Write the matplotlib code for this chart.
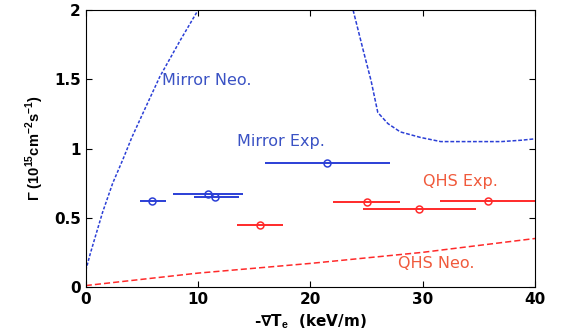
import numpy as np
import matplotlib.pyplot as plt

plt.rcParams['font.family'] = ['Liberation Sans', 'DejaVu Sans']
plt.rcParams['mathtext.fontset'] = 'custom'
plt.rcParams['mathtext.bf'] = 'Liberation Sans:bold'
plt.rcParams['mathtext.rm'] = 'Liberation Sans'

# Mirror neoclassical curve (two branches)
mirror_neo_x1 = [0.0, 0.4, 0.8, 1.5, 2.4, 3.3, 4.1, 5.4, 6.6, 8.4, 10.0]
mirror_neo_y1 = [0.12, 0.24, 0.35, 0.54, 0.75, 0.92, 1.08, 1.31, 1.52, 1.78, 2.00]
mirror_neo_x2 = [23.8, 24.7, 25.4, 26.0, 26.9, 28.0, 29.8, 31.6, 34.6, 37.0, 38.8, 40.0]
mirror_neo_y2 = [2.00, 1.71, 1.49, 1.26, 1.18, 1.12, 1.08, 1.05, 1.05, 1.05, 1.06, 1.07]

# QHS neoclassical curve
qhs_neo_x = [0, 10, 20, 30, 40]
qhs_neo_y = [0.01, 0.10, 0.17, 0.25, 0.35]

# Mirror experiment: x, y, x-range
mirror_exp_x = [5.9, 10.9, 11.5, 21.5]
mirror_exp_y = [0.62, 0.67, 0.65, 0.895]
mirror_exp_lo = [4.8, 7.8, 9.6, 16.0]
mirror_exp_hi = [7.1, 14.0, 13.6, 27.1]

# QHS experiment
qhs_exp_x = [15.5, 25.0, 29.7, 35.8]
qhs_exp_y = [0.448, 0.613, 0.563, 0.62]
qhs_exp_lo = [13.5, 22.0, 24.7, 31.5]
qhs_exp_hi = [17.6, 28.0, 34.7, 40.0]

blue = '#2b3fd6'
red = '#ff2a2a'
blue_txt = '#3a52c4'
red_txt = '#f05a3c'

fig = plt.figure(figsize=(5.68, 3.36), dpi=100)
ax = fig.add_axes([0.151, 0.146, 0.791, 0.824])

ax.plot(mirror_neo_x1, mirror_neo_y1, color=blue, lw=1.1, ls=(0, (2, 1.2)))
ax.plot(mirror_neo_x2, mirror_neo_y2, color=blue, lw=1.1, ls=(0, (2.5, 1.2)))
ax.plot(qhs_neo_x, qhs_neo_y, color=red, lw=1.1, ls=(0, (4, 2)))

mx = np.array(mirror_exp_x)
xerr_m = [mx - np.array(mirror_exp_lo), np.array(mirror_exp_hi) - mx]
ax.errorbar(mirror_exp_x, mirror_exp_y, xerr=xerr_m, fmt='o', color=blue,
            mfc='none', ms=5, mew=1.1, elinewidth=1.4, capsize=0)

qx = np.array(qhs_exp_x)
xerr_q = [qx - np.array(qhs_exp_lo), np.array(qhs_exp_hi) - qx]
ax.errorbar(qhs_exp_x, qhs_exp_y, xerr=xerr_q, fmt='o', color=red,
            mfc='none', ms=5, mew=1.1, elinewidth=1.4, capsize=0)

lab_font = ['DejaVu Sans']
ax.text(6.8, 1.49, 'Mirror Neo.', color=blue_txt, fontsize=11.5, va='center', family=lab_font)
ax.text(13.5, 1.05, 'Mirror Exp.', color=blue_txt, fontsize=11.5, va='center', family=lab_font)
ax.text(30.0, 0.76, 'QHS Exp.', color=red_txt, fontsize=11.5, va='center', family=lab_font)
ax.text(27.8, 0.17, 'QHS Neo.', color=red_txt, fontsize=11.5, va='center', family=lab_font)

ax.set_xlim(0, 40)
ax.set_ylim(0, 2)
ax.set_xticks([0, 10, 20, 30, 40])
ax.set_yticks([0, 0.5, 1, 1.5, 2])
ax.set_yticklabels(['0', '0.5', '1', '1.5', '2'])
ax.tick_params(direction='in', top=True, right=True, labelsize=11, length=4)
for lab in ax.get_xticklabels() + ax.get_yticklabels():
    lab.set_fontweight('bold')
    lab.set_family(['DejaVu Sans'])

ax.set_xlabel('-\u2207T$_\\mathbf{e}$  (keV/m)', fontsize=11, fontweight='bold',
              labelpad=4, family=['DejaVu Sans'])
ax.set_ylabel('\u0393 (10$^\\mathbf{15}$cm$^\\mathbf{-2}$s$^\\mathbf{-1}$)', fontsize=10.5,
              fontweight='bold', labelpad=6)

fig.savefig('out.png', dpi=100)
